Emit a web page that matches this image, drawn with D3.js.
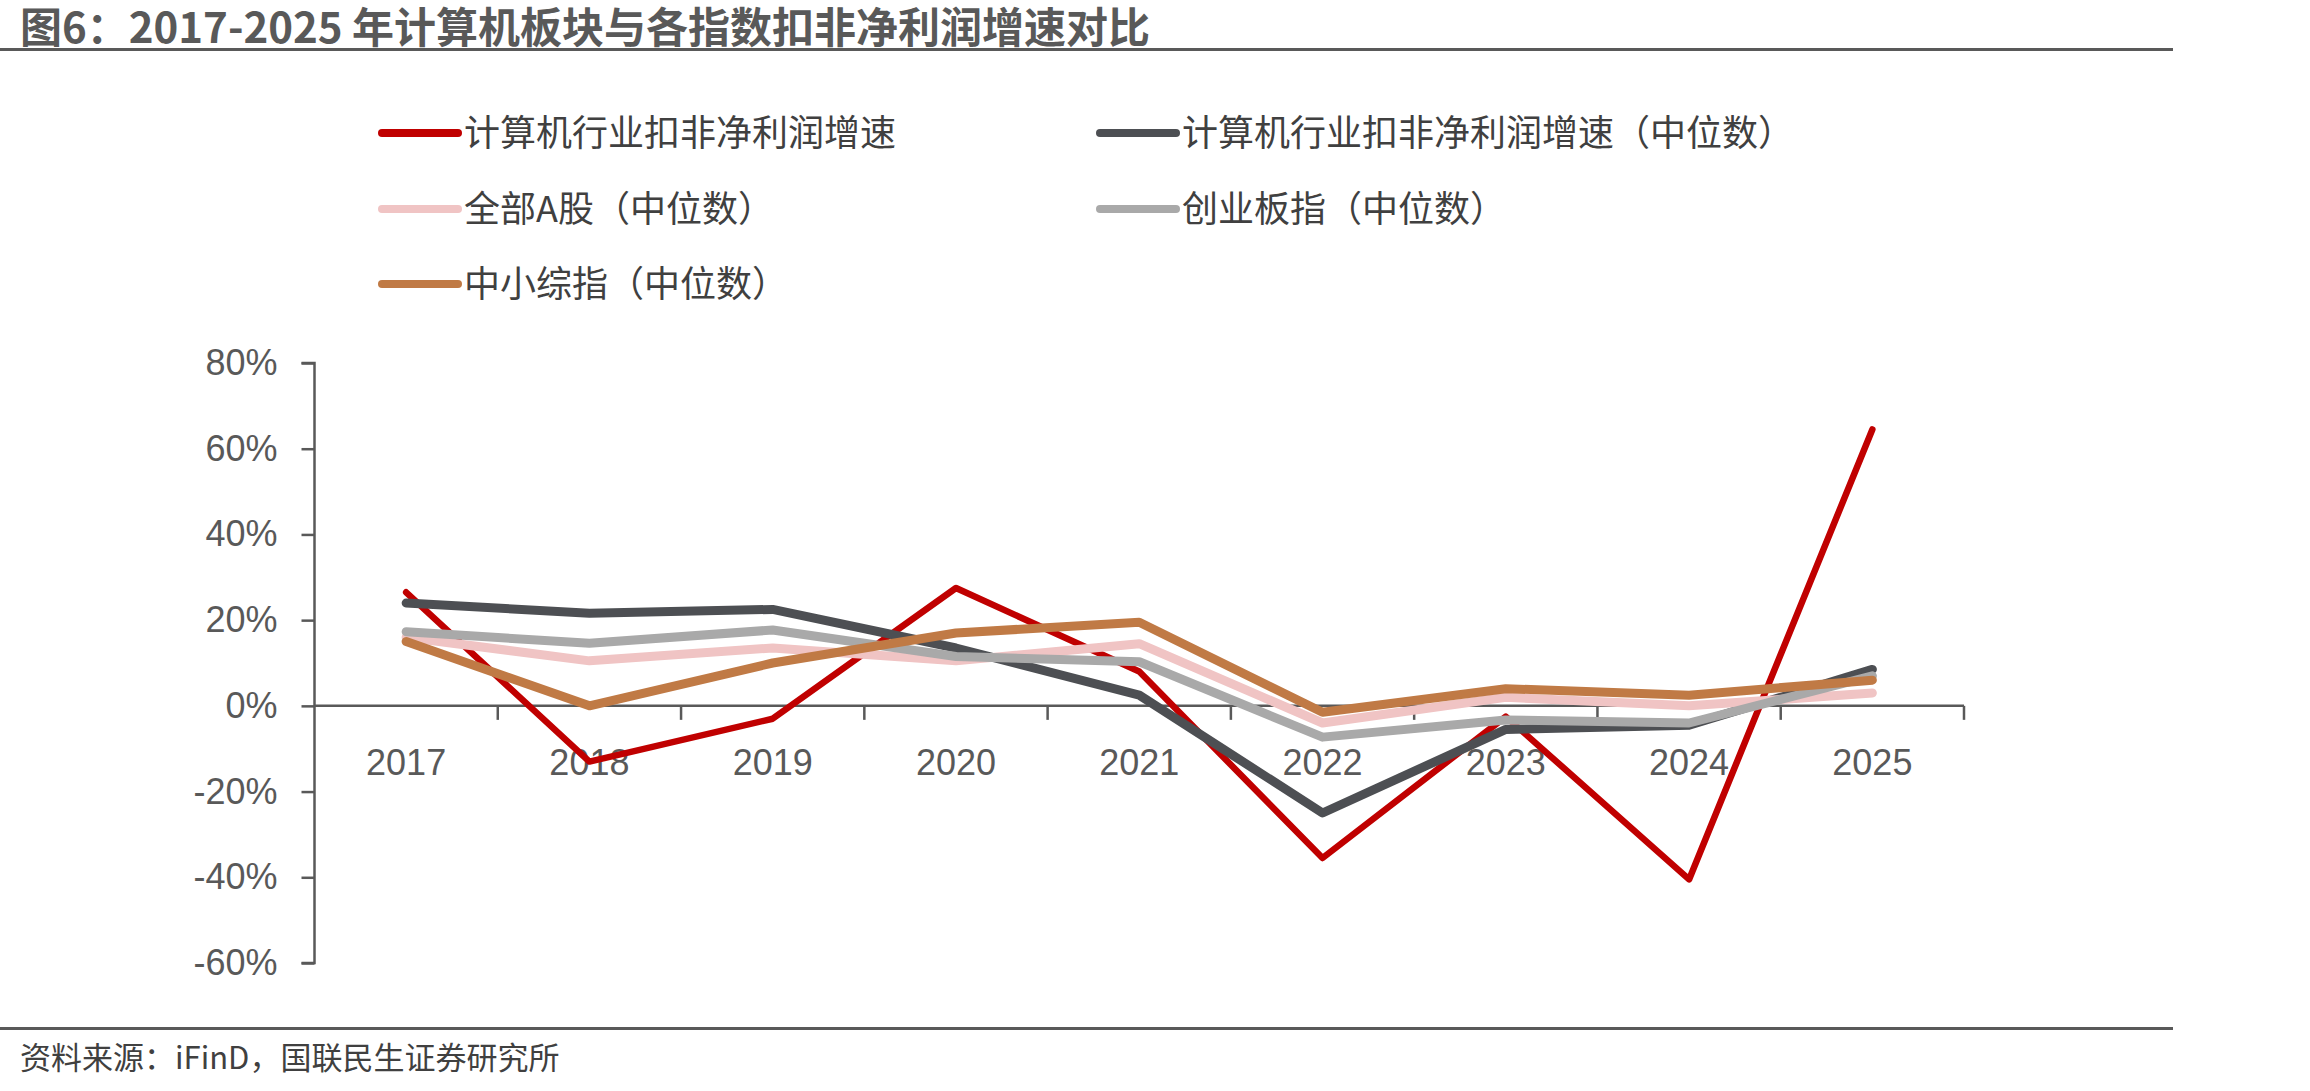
<!DOCTYPE html>
<html lang="zh">
<head>
<meta charset="utf-8">
<title>图6</title>
<script src="https://d3js.org/d3.v7.min.js"></script>
<style>
  body { margin: 0; background: #fff; }
  svg text { font-family: "Noto Sans CJK SC", "Liberation Sans", sans-serif; }
  .tick text { font-family: "Liberation Sans", Arial, sans-serif; font-size: 36px; fill: #595959; }
</style>
</head>
<body>
<div id="chart"></div>
<script>
const years = ["2017","2018","2019","2020","2021","2022","2023","2024","2025"];
const seriesNames = [
  "计算机行业扣非净利润增速",
  "计算机行业扣非净利润增速（中位数）",
  "全部A股（中位数）",
  "创业板指（中位数）",
  "中小综指（中位数）"
];
const computerGrowth   = [26.5, -13, -3, 27.5, 8, -35.5, -2.5, -40.5, 64.5];
const computerMedian   = [24, 21.6, 22.5, 13.5, 2.5, -25, -5.5, -4.5, 8.5];
const allAMedian       = [16, 10.5, 13.5, 10.5, 14.5, -4, 2, 0, 3];
const chinextMedian    = [17.3, 14.6, 17.7, 11.5, 10.3, -7.3, -3.3, -4, 7];
const smeMedian        = [15, 0, 10, 17, 19.5, -1.5, 4, 2.5, 6];
const yTicks = [-60, -40, -20, 0, 20, 40, 60, 80];

const colors = ["#C00000", "#4D4F53", "#F0C4C4", "#A9A9A9", "#C07A45"];
const widths = [6.5, 9, 9, 9, 9];
const allSeries = [computerGrowth, computerMedian, allAMedian, chinextMedian, smeMedian];

const W = 2310, H = 1091;
const svg = d3.select("#chart").append("svg")
  .attr("width", W).attr("height", H);

// title and rules
svg.append("text")
  .attr("x", 20).attr("y", 43)
  .attr("font-size", 42).attr("font-weight", "bold").attr("fill", "#595959")
  .text("图6：2017-2025 年计算机板块与各指数扣非净利润增速对比");
svg.append("rect").attr("x", 0).attr("y", 48).attr("width", 2173).attr("height", 3).attr("fill", "#595959");
svg.append("rect").attr("x", 0).attr("y", 1027).attr("width", 2173).attr("height", 3).attr("fill", "#595959");
svg.append("text")
  .attr("x", 20).attr("y", 1069)
  .attr("font-size", 31).attr("fill", "#404040")
  .text("资料来源：iFinD，国联民生证券研究所");

// scales
const x = d3.scaleBand().domain(years).range([314.5, 1964]);
const y = d3.scaleLinear().domain([-60, 80]).range([963, 363]);

// y axis
const yAxis = svg.append("g")
  .attr("transform", "translate(314.5,0)")
  .call(d3.axisLeft(y).tickValues(yTicks).tickSize(13).tickPadding(24).tickFormat(d => d + "%"));
yAxis.selectAll("path, line").attr("stroke", "#595959").attr("stroke-width", 2.5);
yAxis.select(".domain").attr("d", `M-13,${y(-60)}H0V${y(80)}H-13`);

// x axis at zero
const xAxis = svg.append("g").attr("transform", `translate(0,${y(0)})`);
xAxis.append("line")
  .attr("x1", x.range()[0]).attr("x2", x.range()[1])
  .attr("stroke", "#595959").attr("stroke-width", 2.5);
xAxis.selectAll("line.tk").data(years).enter().append("line")
  .attr("class", "tk")
  .attr("x1", d => x(d) + x.bandwidth()).attr("x2", d => x(d) + x.bandwidth())
  .attr("y1", 0).attr("y2", 14)
  .attr("stroke", "#595959").attr("stroke-width", 2.5);
xAxis.selectAll("text").data(years).enter().append("text")
  .attr("class", "tick")
  .attr("x", d => x(d) + x.bandwidth() / 2)
  .attr("y", 69)
  .attr("text-anchor", "middle")
  .style("font-family", "Liberation Sans, Arial, sans-serif")
  .style("font-size", "36px").style("fill", "#595959")
  .text(d => d);

// lines
const line = d3.line()
  .x((d, i) => x(years[i]) + x.bandwidth() / 2)
  .y(d => y(d));
svg.append("g").selectAll("path").data(allSeries).enter().append("path")
  .attr("d", d => line(d))
  .attr("fill", "none")
  .attr("stroke", (d, i) => colors[i])
  .attr("stroke-width", (d, i) => widths[i])
  .attr("stroke-linejoin", "round")
  .attr("stroke-linecap", "round");

// legend
const legendPos = [[380, 133], [1098, 133], [380, 209], [1098, 209], [380, 284]];
const legend = svg.append("g").selectAll("g").data(seriesNames).enter().append("g")
  .attr("transform", (d, i) => `translate(${legendPos[i][0]},${legendPos[i][1]})`);
legend.append("line")
  .attr("x1", 2).attr("x2", 78).attr("y1", 0).attr("y2", 0)
  .attr("stroke", (d, i) => colors[i]).attr("stroke-width", 8).attr("stroke-linecap", "round");
legend.append("text")
  .attr("x", 84).attr("y", 0).attr("dy", "0.36em")
  .attr("font-size", 36).attr("fill", "#404040")
  .text(d => d);
</script>
</body>
</html>
